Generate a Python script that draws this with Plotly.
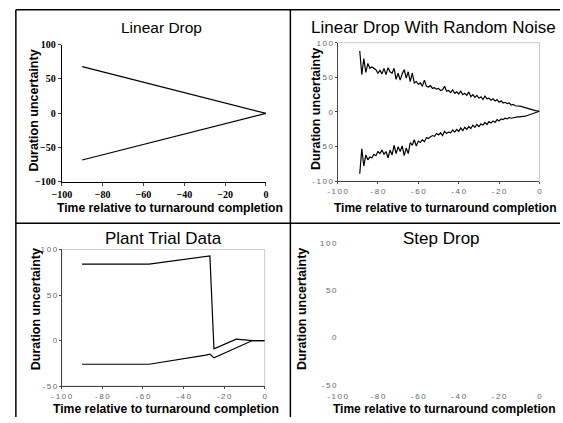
import plotly.graph_objects as go

W, H = 563, 423

# ---------------- data ----------------
lin_x = [-90, 0]
lin_upper = [68, 0]
lin_lower = [-68, 0]

noise_x = list(range(-89, 1))
noise_upper = [88, 54, 77, 57, 70, 63, 65, 63, 61, 56,
               60, 55, 63, 54, 64, 58, 56, 63, 47, 56,
               46, 55, 61, 49, 58, 44, 56, 42, 44, 40,
               42, 37, 46, 37, 36, 38, 34, 35, 33, 34,
               31, 32, 37, 30, 31, 28, 32, 27, 29, 26,
               30, 25, 27, 24, 29, 22, 25, 21, 24, 20,
               22, 18, 23, 19, 20, 17, 19, 16, 18, 14,
               16, 13, 14, 12, 13, 10, 11, 9, 9, 8,
               8, 7, 6, 6, 5, 4, 3, 2, 1.5, 1]
noise_lower = [-89, -53, -78, -62, -69, -65, -66, -61, -63, -57,
               -60, -55, -61, -57, -66, -55, -62, -48, -60, -50,
               -57, -49, -63, -52, -60, -44, -48, -40, -49, -42,
               -44, -40, -43, -37, -38, -36, -34, -35, -31, -33,
               -30, -34, -28, -31, -29, -30, -26, -29, -25, -28,
               -23, -27, -22, -25, -21, -24, -19, -22, -18, -21,
               -17, -19, -15, -18, -14, -16, -13, -15, -11, -13,
               -10, -11, -9, -10, -8, -9, -8, -8, -7, -7,
               -7, -6, -6, -5, -4, -4, -3, -2, -1, 1]

plant_upper_x = [-90, -57, -27, -25, -14, -6, 0]
plant_upper_y = [84, 84, 93, -9, 1.5, 0, 0]
plant_lower_x = [-90, -57, -29, -27, -25, -6, 0]
plant_lower_y = [-26, -26, -16, -15, -19, 0, 0]

x_ticks = [-100, -80, -60, -40, -20, 0]
y_ticks_full = [-100, -50, 0, 50, 100]
y_ticks_half = [-50, 0, 50, 100]

titles = ["Linear Drop", "Linear Drop With Random Noise", "Plant Trial Data", "Step Drop"]
x_title = "Time relative to turnaround completion"
y_title = "Duration uncertainty"

# ---------------- helpers ----------------
def px(x):
    return x / W

def py(y):
    return 1 - y / H

def spaced(vals):
    return ["\u2009".join(str(v)) for v in vals]

fig = go.Figure()

line_style = dict(color="black", width=1.2)
fig.add_trace(go.Scatter(x=lin_x, y=lin_upper, mode="lines", line=line_style, xaxis="x", yaxis="y"))
fig.add_trace(go.Scatter(x=lin_x, y=lin_lower, mode="lines", line=line_style, xaxis="x", yaxis="y"))
fig.add_trace(go.Scatter(x=noise_x, y=noise_upper, mode="lines", line=line_style, xaxis="x2", yaxis="y2"))
fig.add_trace(go.Scatter(x=noise_x, y=noise_lower, mode="lines", line=line_style, xaxis="x2", yaxis="y2"))
fig.add_trace(go.Scatter(x=plant_upper_x, y=plant_upper_y, mode="lines", line=line_style, xaxis="x3", yaxis="y3"))
fig.add_trace(go.Scatter(x=plant_lower_x, y=plant_lower_y, mode="lines", line=line_style, xaxis="x3", yaxis="y3"))
fig.add_trace(go.Scatter(x=[None], y=[None], mode="lines", line=line_style, xaxis="x4", yaxis="y4"))

serif_bold = dict(family="Liberation Serif", size=10, color="black", weight="bold")
sans_small = dict(family="Liberation Sans, Arial", size=8, color="#666")

common = dict(showgrid=False, zeroline=False, fixedrange=True)

def dark_axis(vals, **kw):
    d = dict(common)
    d.update(showline=True, linecolor="#444", linewidth=1, ticks="outside", ticklen=2,
             tickcolor="#444", tickfont=sans_small, tickvals=vals, ticktext=spaced(vals))
    d.update(kw)
    return d

layout = dict(
    width=W, height=H, margin=dict(l=0, r=0, t=0, b=0),
    paper_bgcolor="white", plot_bgcolor="white", showlegend=False,
    xaxis=dict(common, domain=[px(53), px(262)], range=[-100, 0], anchor="y",
               tickvals=x_ticks, showline=True, linecolor="black", linewidth=1.2,
               ticks="outside", ticklen=3, tickfont=serif_bold),
    yaxis=dict(common, domain=[py(181.7), py(40.7)], range=[-100, 100], anchor="x",
               tickvals=y_ticks_full, showline=True, linecolor="black", linewidth=1.2,
               ticks="outside", ticklen=3, tickfont=serif_bold),
    xaxis2=dark_axis(x_ticks, domain=[px(335.3), px(542)], range=[-100, 0], anchor="y2"),
    yaxis2=dark_axis(y_ticks_full, domain=[py(181), py(38.7)], range=[-100, 100], anchor="x2"),
    xaxis3=dark_axis(x_ticks, domain=[px(53), px(260.7)], range=[-100, 0], anchor="y3"),
    yaxis3=dark_axis(y_ticks_half, domain=[py(391.3), py(251)], range=[-50, 100], anchor="x3"),
    xaxis4=dict(common, domain=[px(335.3), px(542)], range=[-100, 0], anchor="y4", tickvals=x_ticks,
                ticktext=spaced(x_ticks), showline=False, ticks="", tickfont=sans_small,
                ticklabelstandoff=5),
    yaxis4=dict(common, domain=[py(390), py(244.7)], range=[-50, 100], anchor="x4", tickvals=y_ticks_half,
                ticktext=spaced(y_ticks_half), showline=False, ticks="", tickfont=sans_small),
)
fig.update_layout(**layout)

shapes = []
# light gray frames for panels 2 and 3
for xa, ya in [("x2", "y2"), ("x3", "y3")]:
    shapes.append(dict(type="rect", xref=f"{xa} domain", yref=f"{ya} domain",
                       x0=0, x1=1, y0=0, y1=1, line=dict(color="#cccccc", width=1),
                       layer="below"))
# panel borders
bcol = dict(color="black", width=1.5)
shapes.append(dict(type="line", xref="paper", yref="paper", x0=px(6), x1=px(6), y0=0, y1=py(5), line=bcol))
shapes.append(dict(type="line", xref="paper", yref="paper", x0=px(6), x1=1, y0=py(5), y1=py(5), line=bcol))
shapes.append(dict(type="line", xref="paper", yref="paper", x0=px(287), x1=px(287), y0=0, y1=py(5), line=bcol))
shapes.append(dict(type="line", xref="paper", yref="paper", x0=px(6), x1=1, y0=py(224), y1=py(224), line=bcol))
fig.update_layout(shapes=shapes)

ann = []
title_font = dict(family="Liberation Sans, Arial", size=17, color="black")
title_pos = [(155.5, 23, 15.5), (433, 23, 17), (157.5, 240, 17), (442, 240, 17)]
for t, (cx, cy, fs) in zip(titles, title_pos):
    ann.append(dict(text=t, x=px(cx), y=py(cy), xref="paper", yref="paper", showarrow=False,
                    xanchor="center", yanchor="middle", font=dict(title_font, size=fs)))

axis_font = dict(family="Liberation Sans, Arial", size=12.5, color="black", weight="bold")
ytitle_pos = [(25, 108), (313, 107), (27, 312), (299, 312)]
for cx, cy in ytitle_pos:
    ann.append(dict(text=y_title, x=px(cx), y=py(cy), xref="paper", yref="paper", showarrow=False,
                    textangle=-90, xanchor="center", yanchor="middle", font=axis_font))
xtitle_pos = [(46, 208, 12.2), (330, 208, 12.0), (42, 415, 12.2), (329, 415, 12.0)]
for lx, cy, fs in xtitle_pos:
    ann.append(dict(text=x_title, x=px(lx), y=py(cy), xref="paper", yref="paper", showarrow=False,
                    xanchor="left", yanchor="middle", font=dict(axis_font, size=fs)))
fig.update_layout(annotations=ann)

fig.write_html("out.html", config={"displayModeBar": False},
               post_script="document.body.style.margin='0';document.body.style.overflow='hidden';")
